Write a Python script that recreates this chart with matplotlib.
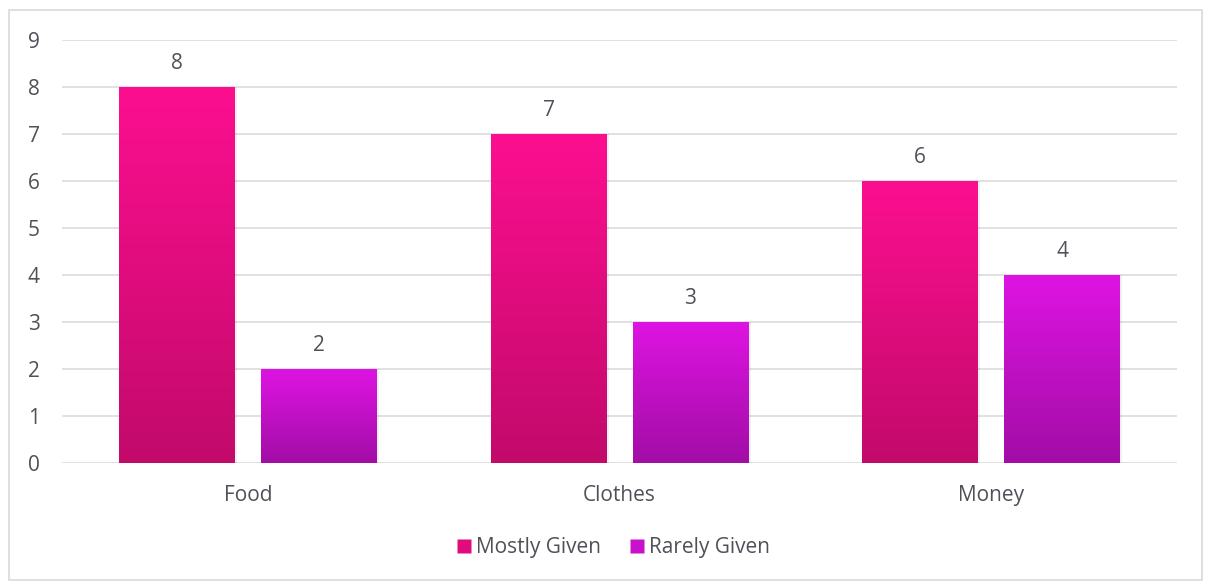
import matplotlib
matplotlib.use("Agg")
import matplotlib.pyplot as plt
import numpy as np
from matplotlib.colors import LinearSegmentedColormap
from matplotlib.patches import Rectangle
from matplotlib.lines import Line2D

categories = ["Food", "Clothes", "Money"]
mostly_given = [8, 7, 6]
rarely_given = [2, 3, 4]
series_names = ["Mostly Given", "Rarely Given"]
y_ticks = list(range(0, 10))

plt.rcParams['font.family'] = ['Open Sans', 'DejaVu Sans']
text_color = "#505058"
fs = 15

fig = plt.figure(figsize=(12.05, 5.81), dpi=100)
ax = fig.add_axes([62 / 1205, 1 - 463 / 581, (1177 - 62) / 1205, (463 - 40) / 581])

# Chart border
fig.patches.append(Rectangle((9 / 1205, 1 / 581), (1202 - 9) / 1205, (571 - 1) / 581,
                             transform=fig.transFigure, fill=False,
                             edgecolor="#D9D9D9", linewidth=1.2))

ax.set_xlim(-0.5, 2.5)
ax.set_ylim(0, 9)
ax.set_yticks(y_ticks)
ax.set_xticks(range(len(categories)))
ax.set_xticklabels(categories)
ax.tick_params(axis="both", length=0, labelsize=fs, colors=text_color)
ax.tick_params(axis="y", pad=16)
ax.tick_params(axis="x", pad=16)
for s in ax.spines.values():
    s.set_visible(False)
ax.grid(axis="y", color="#D9D9D9", linewidth=1.1)
ax.set_axisbelow(True)

cmap_mostly = LinearSegmentedColormap.from_list("mostly", ["#C20A6B", "#FC0F8F"])
cmap_rarely = LinearSegmentedColormap.from_list("rarely", ["#A20DA6", "#DE14E2"])

width = 0.312
offset = 0.191
x = np.arange(len(categories))
grad = np.linspace(0, 1, 256).reshape(-1, 1)

def gradient_bars(xpos, values, cmap):
    bars = ax.bar(xpos, values, width, color="none", zorder=3)
    for b in bars:
        bx, by = b.get_x(), b.get_y()
        bw, bh = b.get_width(), b.get_height()
        # soft shadow
        ax.add_patch(Rectangle((bx + 0.006, by), bw, bh, facecolor="#000000",
                               alpha=0.06, edgecolor="none", zorder=2.5))
        im = ax.imshow(grad, extent=[bx, bx + bw, by, by + bh], origin="lower",
                       cmap=cmap, aspect="auto", zorder=3)
        im.set_clip_path(b)
        ax.text(bx + bw / 2, bh + 0.27, f"{bh:g}", ha="center", va="bottom",
                fontsize=fs, color=text_color)
    return bars

gradient_bars(x - offset, mostly_given, cmap_mostly)
gradient_bars(x + offset, rarely_given, cmap_rarely)
ax.set_xlim(-0.5, 2.5)
ax.set_ylim(0, 9)

handles = [Line2D([], [], marker="s", linestyle="none", markersize=10,
                  markerfacecolor="#E00C7E", markeredgecolor="none"),
           Line2D([], [], marker="s", linestyle="none", markersize=10,
                  markerfacecolor="#C811CC", markeredgecolor="none")]
fig.legend(handles, series_names, loc="center", bbox_to_anchor=(612 / 1205, 1 - 548 / 581),
           ncol=2, frameon=False, fontsize=fs, labelcolor=text_color,
           handletextpad=0.1, columnspacing=1.2, handlelength=1.0)

fig.savefig("out.png", dpi=100)
